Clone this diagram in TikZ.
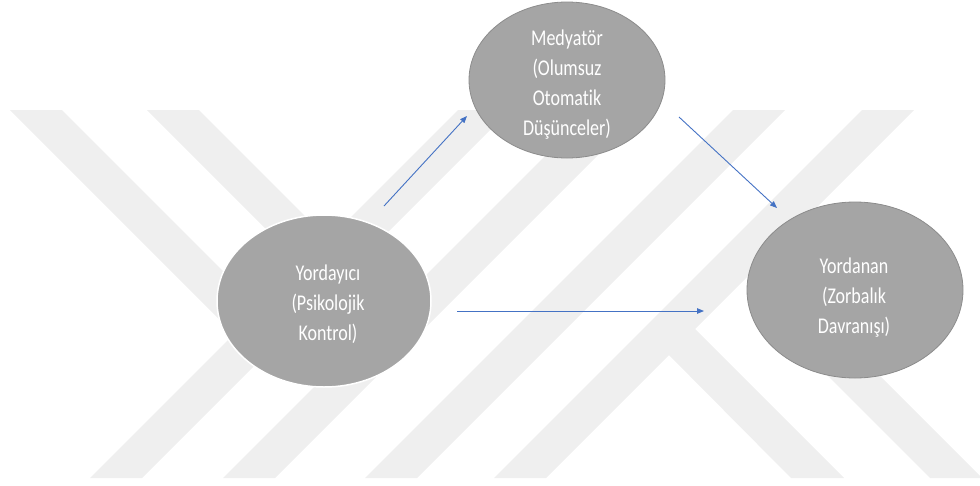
\documentclass[tikz,border=0pt]{standalone}
\usepackage{fontspec}
\setmainfont{Carlito}[Ligatures=CommonOff,FakeStretch=0.8]
\usetikzlibrary{arrows.meta,shapes.geometric}
\definecolor{kutu}{HTML}{A5A5A5}
\definecolor{okrenk}{HTML}{4472C4}
\definecolor{filigran}{HTML}{EFEFEF}
\begin{document}
\begin{tikzpicture}[x=1pt,y=-1pt,
    degisken/.style={ellipse,fill=kutu,draw=black!45,line width=0.8pt,inner sep=0pt},
    yazi/.style={align=center,text=white,inner sep=0pt,font=\fontsize{22.5}{30}\selectfont},
    yol/.style={draw=okrenk,line width=0.9pt,-{Triangle[length=7pt,width=5.5pt]}}]
    \useasboundingbox (0,0) rectangle (980,485);
    % arka plan filigrani
    \foreach \a in {90,223,365,494}
        \fill[filigran] (\a,478) -- ++(52,0) -- ++(368,-368) -- ++(-52,0) -- cycle;
    \fill[filigran] (10,110) -- (62,110) -- (273,321) -- (247,347) -- cycle;
    \fill[filigran] (147,110) -- (199,110) -- (408,319) -- (382,345) -- cycle;
    \fill[filigran] (682,316) -- (844,478) -- (791,478) -- (656,342) -- cycle;
    \fill[filigran] (762,310) -- (814,310) -- (982,478) -- (930,478) -- cycle;
    % degiskenler
    \node[degisken,minimum width=196pt,minimum height=156pt] (medyator) at (567,80) {};
    \node[yazi] (medyator-yazi) at (567,85) {Medyatör\\(Olumsuz\\Otomatik\\Düşünceler)};
    \node[degisken,draw=white,line width=1.5pt,minimum width=214pt,minimum height=172pt] (yordayici) at (324,301) {};
    \node[yazi] (yordayici-yazi) at (328,304) {Yordayıcı\\(Psikolojik\\Kontrol)};
    \node[degisken,minimum width=216pt,minimum height=176pt] (yordanan) at (855,290) {};
    \node[yazi] (yordanan-yazi) at (854,298) {Yordanan\\(Zorbalık\\Davranışı)};
    % oklar
    \coordinate (a1) at (384,206);
    \coordinate (a2) at (467,116);
    \coordinate (b1) at (679,117);
    \coordinate (b2) at (777,208);
    \coordinate (c1) at (457,311);
    \coordinate (c2) at (704,311);
    \draw[yol] (a1) -- (a2);
    \draw[yol] (b1) -- (b2);
    \draw[yol] (c1) -- (c2);
\end{tikzpicture}
\end{document}
